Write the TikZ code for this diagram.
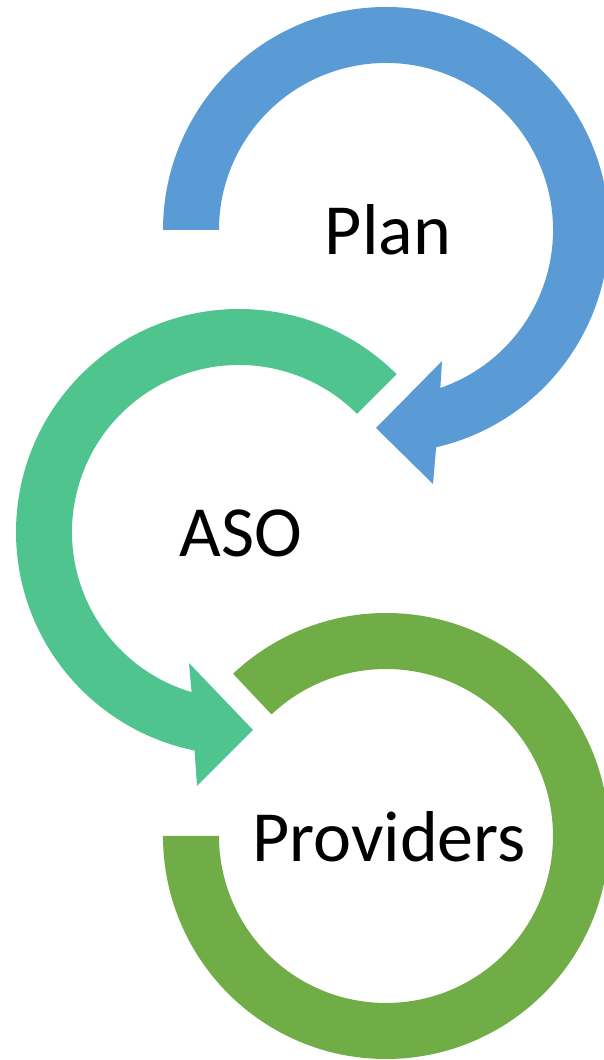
\documentclass[tikz,border=0pt]{standalone}
\usepackage{fontspec}
\setmainfont{Carlito}
\usetikzlibrary{calc}
\definecolor{planblue}{RGB}{91,155,213}
\definecolor{asogreen}{RGB}{80,196,142}
\definecolor{provgreen}{RGB}{112,173,71}
\tikzset{
  arrowband/.style={draw=none},
  lbl/.style={anchor=base, inner sep=0pt, font=\fontsize{72}{86}\selectfont}
}
\begin{document}
\begin{tikzpicture}[x=1pt,y=1pt]
\useasboundingbox (0,0) rectangle (604,1060);
\clip (0,0) rectangle (604,1060);
\coordinate (P) at (386,830);
\coordinate (A) at (239,528);
\coordinate (V) at (386,224);
% Plan arrow (clockwise)
\fill[planblue] ($(P)+(180:223)$) arc[start angle=180, end angle=-77, radius=223]
  -- (433,576) -- (376,632) -- (442,699)
  -- ($(P)+(-71:167)$) arc[start angle=-71, end angle=180, radius=167] -- cycle;
% ASO arrow (counterclockwise)
\fill[asogreen] ($(A)+(45:223)$) arc[start angle=45, end angle=258.5, radius=223]
  -- (197,274) -- (253,330) -- (189,397)
  -- ($(A)+(253.5:167)$) arc[start angle=253.5, end angle=45, radius=167] -- cycle;
% Providers band
\fill[provgreen] ($(V)+(180:223)$) arc[start angle=180, end angle=493.3, radius=223]
  -- ($(V)+(133.3:167)$) arc[start angle=493.3, end angle=180, radius=167] -- cycle;
\node[lbl] (plan) at (388,805) {Plan};
\node[lbl] (aso) at (241,503) {ASO};
\node[lbl] (prov) at (389,198) {Providers};
\end{tikzpicture}
\end{document}
